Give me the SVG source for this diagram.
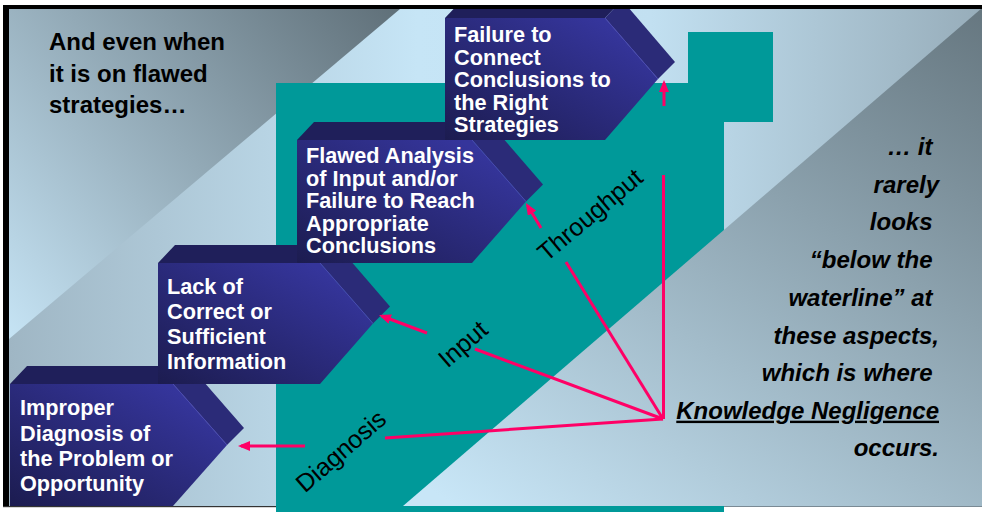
<svg xmlns="http://www.w3.org/2000/svg" width="982" height="512" viewBox="0 0 982 512">
<defs>
  <linearGradient id="bg" x1="9" y1="0" x2="982" y2="0" gradientUnits="userSpaceOnUse">
    <stop offset="0" stop-color="#9fb6c4"/>
    <stop offset="0.42" stop-color="#c6e5f6"/>
    <stop offset="0.66" stop-color="#c2e0f1"/>
    <stop offset="1" stop-color="#97adba"/>
  </linearGradient>
  <linearGradient id="tl" x1="8" y1="339" x2="400" y2="8" gradientUnits="userSpaceOnUse">
    <stop offset="0" stop-color="#c6e4f5"/>
    <stop offset="1" stop-color="#5f6f78"/>
  </linearGradient>
  <linearGradient id="br" x1="600" y1="600" x2="985" y2="10" gradientUnits="userSpaceOnUse">
    <stop offset="0" stop-color="#c8e6f7"/>
    <stop offset="1" stop-color="#667780"/>
  </linearGradient>
  <linearGradient id="face" x1="0" y1="1" x2="0.85" y2="0.15">
    <stop offset="0" stop-color="#1c1c50"/>
    <stop offset="1" stop-color="#35359b"/>
  </linearGradient>
  <marker id="ah" viewBox="0 0 12 10" refX="9" refY="5" markerWidth="12" markerHeight="10" markerUnits="userSpaceOnUse" orient="auto">
    <path d="M0,0 L12,5 L0,10 z" fill="#ff0066"/>
  </marker>
  <style>
    .top { fill: #1f1f5a; }
    .side { fill: #2b2b78; }
    .face { fill: url(#face); }
    .edge { fill: none; stroke: #4a4ab0; stroke-width: 1; }
    .bt { fill: #ffffff; font-family: "Liberation Sans", Arial, sans-serif; font-weight: bold; font-size: 21.7px; }
    .conn { fill: none; stroke: #ff0066; stroke-width: 3; }
    .arr { fill: none; stroke: #ff0066; stroke-width: 3; marker-end: url(#ah); }
    .lbl { fill: #000000; font-family: "Liberation Sans", Arial, sans-serif; font-size: 25px; text-anchor: middle; }
    .lt { fill: #000000; font-family: "Liberation Sans", Arial, sans-serif; font-weight: bold; font-size: 24px; }
    .rt { fill: #000000; font-family: "Liberation Sans", Arial, sans-serif; font-weight: bold; font-style: italic; font-size: 24px; text-anchor: end; }
  </style>
</defs>

<rect x="0" y="0" width="982" height="512" fill="#ffffff"/>

<g id="background">
  <rect x="9" y="9" width="973" height="497" fill="url(#bg)"/>
  <polygon points="9,9 400,9 9,339" fill="url(#tl)"/>
  <polygon points="276,83 688,83 688,32 773,32 773,122 724,122 724,512 276,512" fill="#009999"/>
  <polygon points="403,506 982,506 982,8" fill="url(#br)"/>
</g>

<g id="box1">
  <polygon class="top" points="10,384 27,366 190,366 173,384"/>
  <polygon class="side" points="173,384 190,366 244,428 227,445"/>
  <polygon class="face" points="10,384 173,384 227,445 173,506 10,506"/>
  <polyline class="edge" points="173,384 227,445"/>
  <text class="bt"><tspan x="20" y="415">Improper</tspan><tspan x="20" y="440.5">Diagnosis of</tspan><tspan x="20" y="466">the Problem or</tspan><tspan x="20" y="491">Opportunity</tspan></text>
</g>

<g id="box2">
  <polygon class="top" points="158,263 175,245 337,245 320,263"/>
  <polygon class="side" points="320,263 337,245 390,306.5 373,323.5"/>
  <polygon class="face" points="158,263 320,263 373,323.5 320,384 158,384"/>
  <polyline class="edge" points="320,263 373,323.5"/>
  <text class="bt"><tspan x="167" y="294">Lack of</tspan><tspan x="167" y="319">Correct or</tspan><tspan x="167" y="344">Sufficient</tspan><tspan x="167" y="369">Information</tspan></text>
</g>

<g id="box3">
  <polygon class="top" points="297,140 314,122 489,122 472,140"/>
  <polygon class="side" points="472,140 489,122 543,184.5 526,201.5"/>
  <polygon class="face" points="297,140 472,140 526,201.5 472,263 297,263"/>
  <polyline class="edge" points="472,140 526,201.5"/>
  <text class="bt"><tspan x="306" y="163">Flawed Analysis</tspan><tspan x="306" y="185.5">of Input and/or</tspan><tspan x="306" y="208">Failure to Reach</tspan><tspan x="306" y="230.5">Appropriate</tspan><tspan x="306" y="253">Conclusions</tspan></text>
</g>

<g id="box4">
  <polygon class="top" points="445,18 462,0 622,0 605,18"/>
  <polygon class="side" points="605,18 622,0 675,62 658,79"/>
  <polygon class="face" points="445,18 605,18 658,79 605,140 445,140"/>
  <polyline class="edge" points="605,18 658,79"/>
  <text class="bt"><tspan x="454" y="42">Failure to</tspan><tspan x="454" y="64.5">Connect</tspan><tspan x="454" y="87">Conclusions to</tspan><tspan x="454" y="109.5">the Right</tspan><tspan x="454" y="132">Strategies</tspan></text>
</g>

<g id="connectors">
  <line class="conn" x1="663.5" y1="419" x2="663.5" y2="175"/>
  <line class="conn" x1="663" y1="419" x2="566" y2="262"/>
  <line class="conn" x1="663" y1="419" x2="475" y2="349"/>
  <line class="conn" x1="663" y1="419" x2="385" y2="438"/>
  <line class="arr" x1="305" y1="446" x2="241" y2="446"/>
  <line class="arr" x1="427" y1="333" x2="381.8" y2="316"/>
  <line class="arr" x1="541" y1="228" x2="527.5" y2="205.6"/>
  <line class="arr" x1="664" y1="106" x2="664" y2="83"/>
</g>

<g id="labels">
  <text class="lbl" x="595.5" y="221.5" transform="rotate(-40 595.5 221.5)">Throughput</text>
  <text class="lbl" x="468.5" y="350.5" transform="rotate(-41 468.5 350.5)">Input</text>
  <text class="lbl" x="346.5" y="457.5" transform="rotate(-41 346.5 457.5)">Diagnosis</text>
</g>

<g id="left-text">
  <text class="lt"><tspan x="49" y="50">And even when</tspan><tspan x="49" y="81.5">it is on flawed</tspan><tspan x="49" y="112.5">strategies…</tspan></text>
</g>

<g id="right-text">
  <text class="rt" x="932.5" y="155">… it</text>
  <text class="rt" x="939" y="192.7">rarely</text>
  <text class="rt" x="932.5" y="230.4">looks</text>
  <text class="rt" x="932.5" y="268">“below the</text>
  <text class="rt" x="932.5" y="305.8">waterline” at</text>
  <text class="rt" x="939" y="343.5">these aspects,</text>
  <text class="rt" x="932.5" y="381">which is where</text>
  <text class="rt" x="939" y="418.7" text-decoration="underline">Knowledge Negligence</text>
  <text class="rt" x="939" y="456.4">occurs.</text>
</g>

<g id="frame">
  <rect x="0" y="0" width="982" height="5" fill="#ffffff"/>
  <rect x="3" y="5" width="979" height="4" fill="#000000"/>
  <rect x="0" y="0" width="3" height="512" fill="#ffffff"/>
  <rect x="3" y="5" width="6" height="502" fill="#000000"/>
  <rect x="0" y="507" width="276" height="5" fill="#ffffff"/>
  <rect x="724" y="507" width="258" height="5" fill="#ffffff"/>
  <rect x="3" y="506" width="273" height="1.2" fill="#333333"/>
  <rect x="724" y="506" width="258" height="1" fill="#7a8a94"/>
</g>
</svg>
